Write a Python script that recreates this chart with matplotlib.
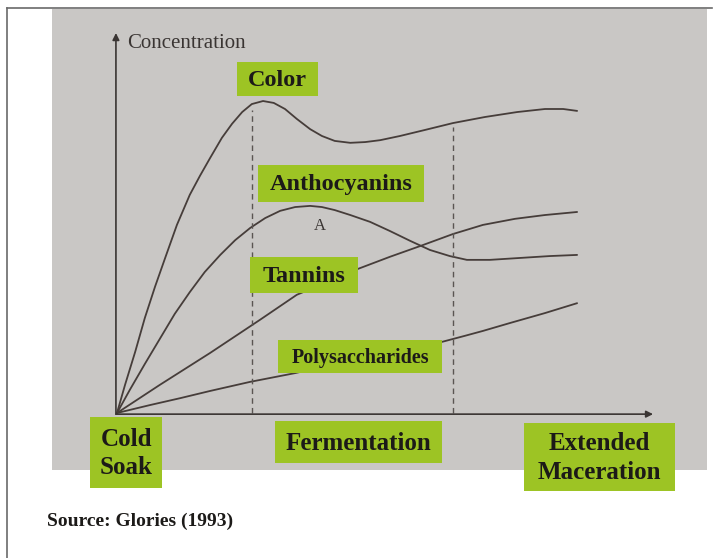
import matplotlib
matplotlib.use('Agg')
import matplotlib.pyplot as plt
from matplotlib.patches import Rectangle

# time (0-100 along the x axis) and concentration (0-100)
color_t = [0, 1.5, 3.4, 5.2, 7.1, 9.0, 11.2, 13.6, 15.5, 17.4, 19.6, 21.5, 23.4, 25.2, 27.3, 29.3,
           31.4, 33.6, 36.1, 38.3, 40.7, 43.6, 46.4, 49.2, 52.9, 57.6, 62.8, 68.8, 74.8, 80.0, 83.4, 86.0]
color_c = [0, 7.4, 16.1, 25.0, 33.2, 40.8, 49.5, 57.4, 62.4, 67.1, 72.4, 76.1, 79.2, 81.3, 82.1, 81.6,
           80.0, 77.4, 74.7, 72.9, 71.6, 71.1, 71.3, 71.8, 72.9, 74.5, 76.3, 77.9, 79.2, 80.0, 80.0, 79.5]

antho_t = [0, 2.4, 5.2, 8.0, 10.8, 13.6, 16.4, 19.3, 22.1, 24.9, 27.7, 30.5, 33.3, 36.1, 38.3,
           40.7, 43.6, 47.3, 51.0, 54.8, 58.5, 62.2, 65.4, 69.7, 75.3, 80.9, 86.0]
antho_c = [0, 6.1, 12.9, 19.5, 26.1, 31.8, 37.1, 41.6, 45.5, 48.7, 51.3, 53.2, 54.2, 54.5, 54.2,
           53.4, 52.1, 50.3, 47.9, 45.3, 42.9, 41.3, 40.3, 40.3, 40.8, 41.3, 41.6]

tannin_t = [0, 8.0, 17.4, 26.7, 33.6, 45.0, 51.0, 56.6, 62.8, 68.4, 74.4, 80.0, 86.0]
tannin_c = [0, 7.4, 15.8, 24.5, 31.1, 37.9, 41.1, 43.9, 47.1, 49.5, 51.1, 52.1, 52.9]

poly_t = [0, 6.2, 11.8, 17.4, 24.9, 33.3, 47.3, 60.7, 65.0, 68.4, 73.5, 80.0, 86.0]
poly_c = [0, 2.1, 3.9, 5.8, 8.2, 10.5, 15.0, 18.7, 20.3, 21.6, 23.7, 26.3, 28.9]

phase_edges = [25.2, 62.8]
phase_tops = [79.7, 75.3]

curve_labels = ['Color', 'Anthocyanins', 'Tannins', 'Polysaccharides']
phase_labels = ['Cold\nSoak', 'Fermentation', 'Extended\nMaceration']
y_label = 'Concentration'
source = 'Source: Glories (1993)'

W, H = 722, 558
fig = plt.figure(figsize=(W / 100, H / 100), dpi=100)
fig.patch.set_facecolor('white')

serif = ['Liberation Serif', 'DejaVu Serif']
green = '#9dc424'
ink = '#1c1a18'
line_col = '#463d3a'

# background layer in pixel coordinates
bg = fig.add_axes([0, 0, 1, 1], zorder=0)
bg.set_xlim(0, W)
bg.set_ylim(H, 0)
bg.axis('off')
bg.add_patch(Rectangle((52, 9), 655, 461, facecolor='#c9c7c5', edgecolor='none'))
bg.plot([7, 7], [8, H], color='#6a6a6a', lw=1.2)
bg.plot([7, 712], [8, 8], color='#6a6a6a', lw=1.2)

# chart layer in data coordinates
x0, x1, y0, y1 = 117, 652, 413, 33
ax = fig.add_axes([x0 / W, (H - y0) / H, (x1 - x0) / W, (y0 - y1) / H], zorder=1)
ax.set_xlim(0, 100)
ax.set_ylim(0, 100)
ax.patch.set_alpha(0)
ax.axis('off')

for t, c in [(color_t, color_c), (antho_t, antho_c), (tannin_t, tannin_c), (poly_t, poly_c)]:
    ax.plot(t, c, color=line_col, lw=1.3, solid_capstyle='round', solid_joinstyle='round', clip_on=False)

for xe, top in zip(phase_edges, phase_tops):
    ax.plot([xe, xe], [0, top], color='#5a5552', lw=1.0, ls=(0, (4, 3)), clip_on=False)

arrow = dict(arrowstyle='-|>', color='#3a3533', lw=1.2, mutation_scale=10, shrinkA=0, shrinkB=0)
ax.annotate('', xy=(100.2, -0.3), xytext=(-0.2, -0.3), arrowprops=arrow, annotation_clip=False)
ax.annotate('', xy=(-0.2, 100), xytext=(-0.2, -0.3), arrowprops=arrow, annotation_clip=False)
ax.text(1.9, 97.2, y_label, fontsize=15, family=serif, color='#3a3533', va='center', ha='left')
ax.text(37.9, 49.2, 'A', fontsize=12, family=serif, color='#3a3533', va='center', ha='center')

# label boxes on top, in pixel coordinates
top = fig.add_axes([0, 0, 1, 1], zorder=2)
top.set_xlim(0, W)
top.set_ylim(H, 0)
top.axis('off')
top.patch.set_alpha(0)

curve_boxes = [(237, 62, 318, 96), (258, 165, 424, 202), (250, 257, 358, 293), (278, 340, 442, 373)]
curve_sizes = [17.5, 17.5, 17.5, 14.5]
phase_boxes = [(90, 417, 162, 488), (275, 421, 442, 463), (524, 423, 675, 491)]

for text, (l, t, r, b), fs in zip(curve_labels, curve_boxes, curve_sizes):
    top.add_patch(Rectangle((l, t), r - l, b - t, facecolor=green, edgecolor='none'))
    top.text((l + r) / 2, (t + b) / 2 + 1, text, fontsize=fs, family=serif, weight='bold',
             color=ink, ha='center', va='center')

for text, (l, t, r, b) in zip(phase_labels, phase_boxes):
    top.add_patch(Rectangle((l, t), r - l, b - t, facecolor=green, edgecolor='none'))
    top.text((l + r) / 2, (t + b) / 2 + 1, text, fontsize=18, family=serif, weight='bold',
             color=ink, ha='center', va='center', linespacing=1.28)

top.text(47, 521, source, fontsize=14, family=serif, weight='bold', color=ink, ha='left', va='center')

fig.savefig('out.png', dpi=100)
